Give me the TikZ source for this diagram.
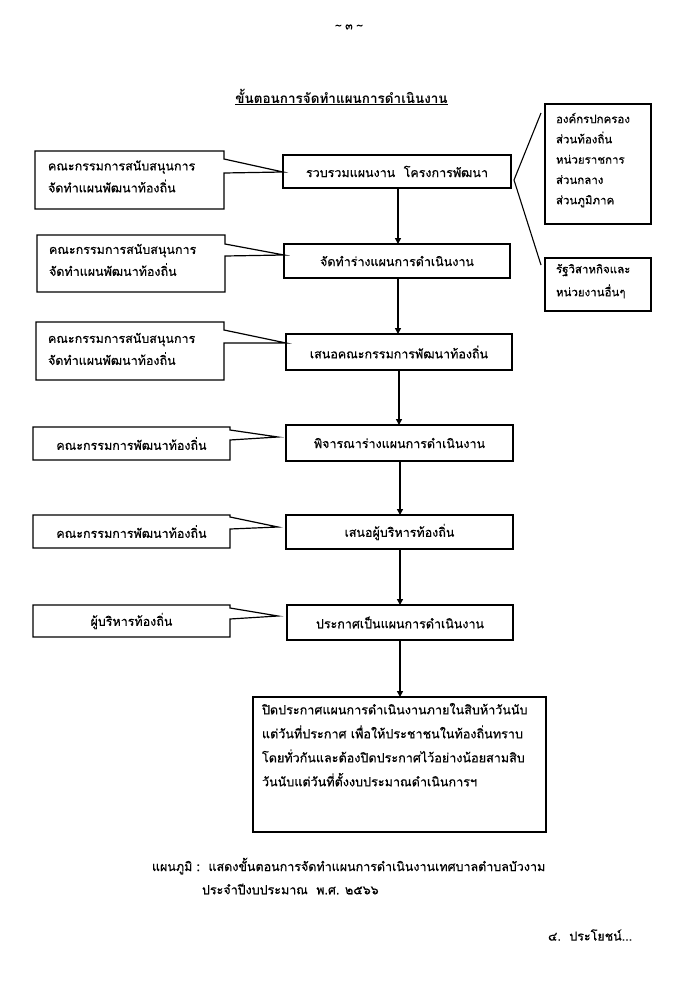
\documentclass[tikz,border=0pt]{standalone}
\usepackage{fontspec}
\setmainfont[Script=Thai,UprightFeatures={FakeBold=0.5}]{Loma}
\usetikzlibrary{arrows.meta}
\begin{document}
\begin{tikzpicture}[x=1pt,y=-1pt,
  every node/.style={inner sep=0pt,outer sep=0pt,font=\fontsize{12.5}{22}\selectfont},
  mainbox/.style={draw,line width=1.4pt,align=center},
  txt/.style={align=left},
  calloutline/.style={line width=1.2pt,line join=miter},
  flowarrow/.style={line width=1.8pt,-{Triangle[length=6pt,width=6pt]}},
  bracketline/.style={line width=1.1pt}]
\useasboundingbox (0,0) rectangle (685,985);
\fill[white] (0,0) rectangle (685,985);

% page number and title
\node[font=\fontsize{11}{13}\selectfont] (pnum) at (349,27) {\textasciitilde\ ๓ \textasciitilde};
\node[font=\bfseries\fontsize{13.5}{16}\selectfont] (title) at (341.5,97) {\underline{ขั้นตอนการจัดทำแผนการดำเนินงาน}};

% main flow boxes
\node[mainbox,minimum width=228,minimum height=33] (B1) at (397,171.5) {รวบรวมแผนงาน~~โครงการพัฒนา};
\node[mainbox,minimum width=226,minimum height=34] (B2) at (397,261) {จัดทำร่างแผนการดำเนินงาน};
\node[mainbox,minimum width=226,minimum height=36] (B3) at (399,352) {เสนอคณะกรรมการพัฒนาท้องถิ่น};
\node[mainbox,minimum width=227,minimum height=36] (B4) at (399.5,443) {พิจารณาร่างแผนการดำเนินงาน};
\node[mainbox,minimum width=227,minimum height=34] (B5) at (399.5,532) {เสนอผู้บริหารท้องถิ่น};
\node[mainbox,minimum width=226,minimum height=35] (B6) at (400,622.5) {ประกาศเป็นแผนการดำเนินงาน};
\node[mainbox,minimum width=293,minimum height=135] (B7) at (399.5,764.5) {};
\node[txt,anchor=north west,font=\fontsize{12.6}{24}\selectfont] (B7t) at (262,703) {ปิดประกาศแผนการดำเนินงานภายในสิบห้าวันนับ\\แต่วันที่ประกาศ เพื่อให้ประชาชนในท้องถิ่นทราบ\\โดยทั่วกันและต้องปิดประกาศไว้อย่างน้อยสามสิบ\\วันนับแต่วันที่ตั้งงบประมาณดำเนินการฯ};

% arrows
\draw[flowarrow] (B1.south -| 398,0) -- (398,244);
\draw[flowarrow] (398,278) -- (398,334);
\draw[flowarrow] (399,370) -- (399,425);
\draw[flowarrow] (400,461) -- (400,515);
\draw[flowarrow] (400,549) -- (400,605);
\draw[flowarrow] (400,640) -- (400,697);

% left callouts (text nodes)
\node[txt,anchor=west] (L1) at (48,176.5) {คณะกรรมการสนับสนุนการ\\จัดทำแผนพัฒนาท้องถิ่น};
\node[txt,anchor=west] (L2) at (49,260) {คณะกรรมการสนับสนุนการ\\จัดทำแผนพัฒนาท้องถิ่น};
\node[txt,anchor=west] (L3) at (48,349) {คณะกรรมการสนับสนุนการ\\จัดทำแผนพัฒนาท้องถิ่น};
\node (L4) at (131.5,443.5) {คณะกรรมการพัฒนาท้องถิ่น};
\node (L5) at (131.5,531.5) {คณะกรรมการพัฒนาท้องถิ่น};
\node (L6) at (131.5,621) {ผู้บริหารท้องถิ่น};

% left callout outlines
\draw[calloutline] (224,159) -- (224,151) -- (35,151) -- (35,209) -- (224,209) -- (224,173) -- (B1.west |- 0,172) -- cycle;
\draw[calloutline] (225,244) -- (225,235) -- (37,235) -- (37,292) -- (225,292) -- (225,256) -- (B2.west |- 0,255) -- cycle;
\draw[calloutline] (224,330) -- (224,322) -- (36,322) -- (36,380) -- (224,380) -- (224,343) -- (B3.west |- 0,343) -- cycle;
\draw[calloutline] (230,430) -- (230,427) -- (33,427) -- (33,460) -- (230,460) -- (230,440) -- (278,437) -- cycle;
\draw[calloutline] (230,517) -- (230,515) -- (33,515) -- (33,548) -- (230,548) -- (230,529) -- (278,527) -- cycle;
\draw[calloutline] (230,608) -- (230,605) -- (33,605) -- (33,637) -- (230,637) -- (230,619) -- (278,616) -- cycle;

% right callouts
\node[draw,line width=1.2pt,minimum width=106,minimum height=120] (R1) at (598,164) {};
\node[txt,anchor=north west,font=\fontsize{11.5}{20.3}\selectfont] (R1t) at (556,113) {องค์กรปกครอง\\ส่วนท้องถิ่น\\หน่วยราชการ\\ส่วนกลาง\\ส่วนภูมิภาค};
\node[draw,line width=1.2pt,minimum width=106,minimum height=53] (R2) at (598,284.5) {};
\node[txt,anchor=north west,font=\fontsize{11.5}{23}\selectfont] (R2t) at (556,264) {รัฐวิสาหกิจและ\\หน่วยงานอื่นๆ};
\coordinate (rtip) at (514,180);
\coordinate (r1end) at (541,113);
\coordinate (r2end) at (541,265);
\draw[bracketline] (r1end) -- (rtip) -- (r2end);

% caption
\node[anchor=west,font=\fontsize{12.5}{16}\selectfont] (cap1) at (152,866) {แผนภูมิ :~~แสดงขั้นตอนการจัดทำแผนการดำเนินงานเทศบาลตำบลบัวงาม};
\node[anchor=west,font=\fontsize{12.5}{16}\selectfont] (cap2) at (202,889) {ประจำปีงบประมาณ~~พ.ศ. ๒๕๖๖};
\node[anchor=west,font=\fontsize{12.5}{16}\selectfont] (next) at (548,935) {๔.~~ประโยชน์...};
\end{tikzpicture}
\end{document}
